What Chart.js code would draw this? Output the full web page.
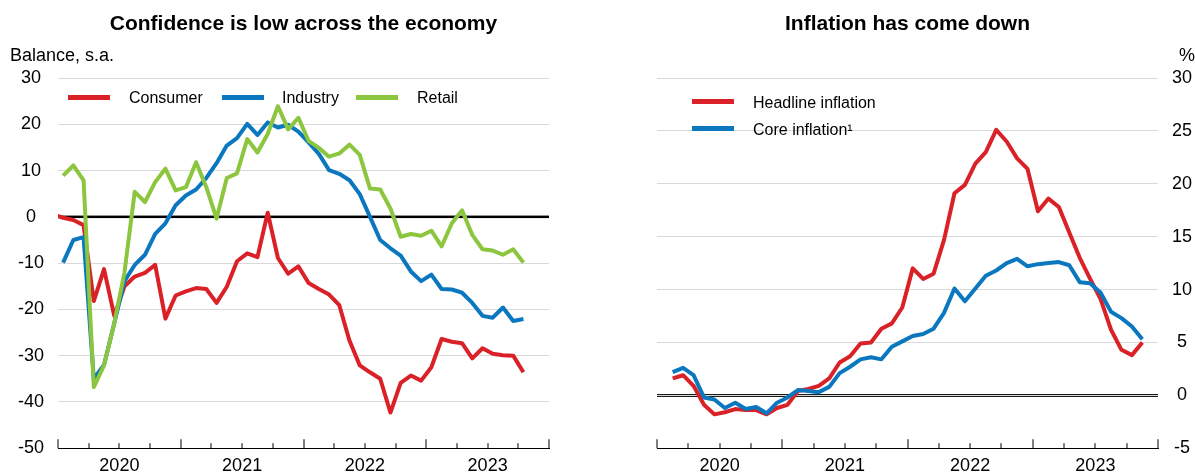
<!DOCTYPE html>
<html><head><meta charset="utf-8">
<script src="https://cdn.jsdelivr.net/npm/chart.js@4.4.0/dist/chart.umd.min.js"></script>
<style>
html,body{margin:0;padding:0;background:#fff;}
#wrap{position:relative;width:1195px;height:473px;overflow:hidden;font-family:"Liberation Sans",Arial,Helvetica,sans-serif;color:#000;}
.abs{position:absolute;white-space:nowrap;}
.title{font-size:21px;font-weight:bold;line-height:21px;top:12px;text-align:center;}
.unit{font-size:18px;line-height:18px;top:46px;}
.leg{font-size:16px;line-height:16px;}
.sw{position:absolute;height:5px;width:42px;}
canvas{position:absolute;top:0;}
</style></head>
<body><div id="wrap">
<canvas id="c1" width="597" height="473" style="left:0px"></canvas>
<canvas id="c2" width="598" height="473" style="left:597px"></canvas>
<div class="abs title" style="left:58px;width:491px">Confidence is low across the economy</div>
<div class="abs title" style="left:657px;width:501px">Inflation has come down</div>
<div class="abs unit" style="left:10px">Balance, s.a.</div>
<div class="abs unit" style="left:1179px">%</div>
</div>
<script>
// ---------- data ----------
const yearLabels = ['2020', '2021', '2022', '2023'];
const monthSpan = 48; // Jan 2020 .. Dec 2023

// Left panel (monthly, index 0 = Jan 2020)
const confSeries = ['Consumer', 'Industry', 'Retail'];
const consumerStart = -1; // Dec 2019
const consumer = [0.5, -0.2, -0.7, -1.8, -18.2, -11.3, -21.4, -15, -12.9, -12.1, -10.4, -22, -17, -16.1, -15.4, -15.6,
  -18.6, -15.1, -9.6, -7.9, -8.7, 0.9, -8.9, -12.3, -10.7, -14.3, -15.6, -16.8, -19.1, -26.8, -32.1, -33.6,
  -35, -42.3, -35.9, -34.3, -35.4, -32.5, -26.4, -27, -27.3, -30.6, -28.4, -29.6, -29.9, -30, -33.6];
const industryStart = 0;
const industry = [-9.9, -5, -4.4, -35, -32, -23, -13.9, -10.4, -8.2, -3.7, -1.4, 2.5, 4.6, 5.9, 8.4, 11.6,
  15.4, 17, 20.1, 17.7, 20.4, 19.3, 19.9, 18.4, 16.1, 13.6, 10.1, 9.3, 7.9, 4.9, 0, -5,
  -6.8, -8.4, -11.8, -13.9, -12.5, -15.6, -15.7, -16.4, -18.6, -21.4, -21.8, -19.6, -22.5, -22.1];
const retailStart = 0;
const retail = [8.9, 11.1, 7.9, -36.8, -32.1, -23, -12, 5.4, 3.2, 7.5, 10.4, 5.7, 6.4, 11.8, 6.4, -0.4,
  8.4, 9.4, 16.8, 13.9, 17.9, 23.9, 18.9, 21.4, 16.4, 14.9, 13, 13.7, 15.6, 13.4, 6.1, 5.9,
  1.8, -4.3, -3.7, -4.1, -3, -6.4, -1.4, 1.4, -3.9, -7, -7.3, -8.2, -7, -9.9];
const confTicks = [-50, -40, -30, -20, -10, 0, 10, 20, 30];

// Right panel (monthly, index 1 = Feb 2020)
const inflSeries = ['Headline inflation', 'Core inflation\u00B9'];
const headlineStart = 1;
const headline = [1.6, 1.9, 0.9, -0.9, -1.8, -1.6, -1.3, -1.4, -1.4, -1.8, -1.2, -0.9, 0.4, 0.6, 0.9, 1.6,
  3.1, 3.7, 4.9, 5, 6.3, 6.8, 8.3, 12, 11, 11.5, 14.7, 19.1, 19.9, 21.9, 23, 25.1,
  24, 22.4, 21.4, 17.4, 18.6, 17.8, 15.4, 13, 11, 9.1, 6.2, 4.3, 3.8, 5];
const coreStart = 1;
const core = [2.2, 2.6, 1.9, -0.2, -0.4, -1.2, -0.7, -1.3, -1.1, -1.7, -0.7, -0.2, 0.5, 0.4, 0.3, 0.8,
  2.1, 2.7, 3.4, 3.6, 3.4, 4.6, 5.1, 5.6, 5.8, 6.3, 7.8, 10.1, 8.9, 10.1, 11.3, 11.8,
  12.5, 12.9, 12.2, 12.4, 12.5, 12.6, 12.3, 10.7, 10.6, 9.7, 7.9, 7.3, 6.5, 5.3];
const inflTicks = [-5, 0, 5, 10, 15, 20, 25, 30];

const RED = '#da2128', BLUE = '#0a77bf', GREEN = '#8cc63f';

// ---------- helpers ----------
Chart.defaults.font.family = '"Liberation Sans", Arial, Helvetica, sans-serif';
Chart.defaults.color = '#000';

const toPoints = (start, vals) => vals.map((v, k) => ({ x: start + k + 0.5, y: v }));

const marks = {
  id: 'marks',
  beforeDatasetsDraw(chart, args, opts) {
    const { ctx, chartArea: a, scales: { y } } = chart;
    const y0 = y.getPixelForValue(0);
    ctx.save();
    if (opts.zero === 'double') {
      const r = Math.round(y0);
      ctx.fillStyle = '#1a1a1a';
      ctx.fillRect(a.left, r - 1, a.right - a.left, 1);
      ctx.fillRect(a.left, r + 1, a.right - a.left, 1);
    } else {
      ctx.fillStyle = '#000';
      ctx.fillRect(a.left, y0 - 1.25, a.right - a.left, 2.5);
    }
    ctx.restore();
  },
  afterDraw(chart) {
    const { ctx, chartArea: a, scales: { x } } = chart;
    ctx.save();
    ctx.fillStyle = '#000';
    for (let m = 0; m <= monthSpan; m += 3) {
      const px = Math.round(x.getPixelForValue(m));
      const len = m % 12 === 0 ? 9 : 5;
      ctx.fillRect(px - 0.5, a.bottom - len, 1, len);
    }
    ctx.restore();
  }
};

function xScale() {
  return {
    type: 'linear', min: 0, max: monthSpan,
    grid: { display: false, drawTicks: false },
    border: { display: true, color: '#000', width: 1 },
    afterBuildTicks: s => { s.ticks = yearLabels.map((_, k) => ({ value: k * 12 + 6 })); },
    ticks: { autoSkip: false, maxRotation: 0, padding: 7, font: { size: 18 },
      callback: (v, i) => yearLabels[i] },
    afterFit: s => { s.height = 23; }
  };
}
function yScale(pos, ticks, width) {
  return {
    position: pos, min: ticks[0], max: ticks[ticks.length - 1],
    afterBuildTicks: s => { s.ticks = ticks.map(v => ({ value: v })); },
    ticks: { padding: 14, crossAlign: 'center', font: { size: 18 } },
    grid: { color: '#d9d9d9', lineWidth: 1, drawTicks: false },
    border: { display: false },
    afterFit: s => { s.width = width; }
  };
}
const lineDs = (label, data, color, order, extra) => Object.assign({
  label, data, borderColor: color, backgroundColor: color, borderWidth: 4,
  pointRadius: 0, tension: 0, borderJoinStyle: 'round', order, fill: false
}, extra || {});

// ---------- left chart ----------
new Chart(document.getElementById('c1'), {
  type: 'line',
  data: { datasets: [
    lineDs(confSeries[0], toPoints(consumerStart, consumer), RED, 2, { clip: 0 }),
    lineDs(confSeries[1], toPoints(industryStart, industry), BLUE, 1),
    lineDs(confSeries[2], toPoints(retailStart, retail), GREEN, 0)
  ] },
  options: {
    responsive: false, animation: false, devicePixelRatio: 1,
    layout: { padding: { left: 0, right: 48, top: 78, bottom: 0 } },
    scales: { x: xScale(), y: yScale('left', confTicks, 58) },
    plugins: { legend: { display: false }, tooltip: { enabled: false }, marks: { zero: 'thick' } }
  },
  plugins: [marks]
});

// ---------- right chart ----------
new Chart(document.getElementById('c2'), {
  type: 'line',
  data: { datasets: [
    lineDs(inflSeries[0], toPoints(headlineStart, headline), RED, 1),
    lineDs(inflSeries[1], toPoints(coreStart, core), BLUE, 0)
  ] },
  options: {
    responsive: false, animation: false, devicePixelRatio: 1,
    layout: { padding: { left: 60, right: 0, top: 78, bottom: 0 } },
    scales: { x: xScale(), y: yScale('right', inflTicks, 37) },
    plugins: { legend: { display: false }, tooltip: { enabled: false }, marks: { zero: 'double' } }
  },
  plugins: [marks]
});

// ---------- legends (HTML) ----------
const wrap = document.getElementById('wrap');
function addLegend(name, color, lineLeft, lineTop, textLeft, textTop) {
  const s = document.createElement('div');
  s.className = 'sw'; s.style.left = lineLeft + 'px'; s.style.top = lineTop + 'px'; s.style.background = color;
  wrap.appendChild(s);
  const t = document.createElement('div');
  t.className = 'abs leg'; t.style.left = textLeft + 'px'; t.style.top = textTop + 'px';
  t.textContent = name;
  wrap.appendChild(t);
}
addLegend(confSeries[0], RED, 68, 94.5, 129, 90);
addLegend(confSeries[1], BLUE, 222, 94.5, 282, 90);
addLegend(confSeries[2], GREEN, 356, 94.5, 417, 90);
addLegend(inflSeries[0], RED, 692, 98.5, 753, 95);
addLegend(inflSeries[1], BLUE, 692, 125.5, 753, 121.5);
</script>
</body></html>
